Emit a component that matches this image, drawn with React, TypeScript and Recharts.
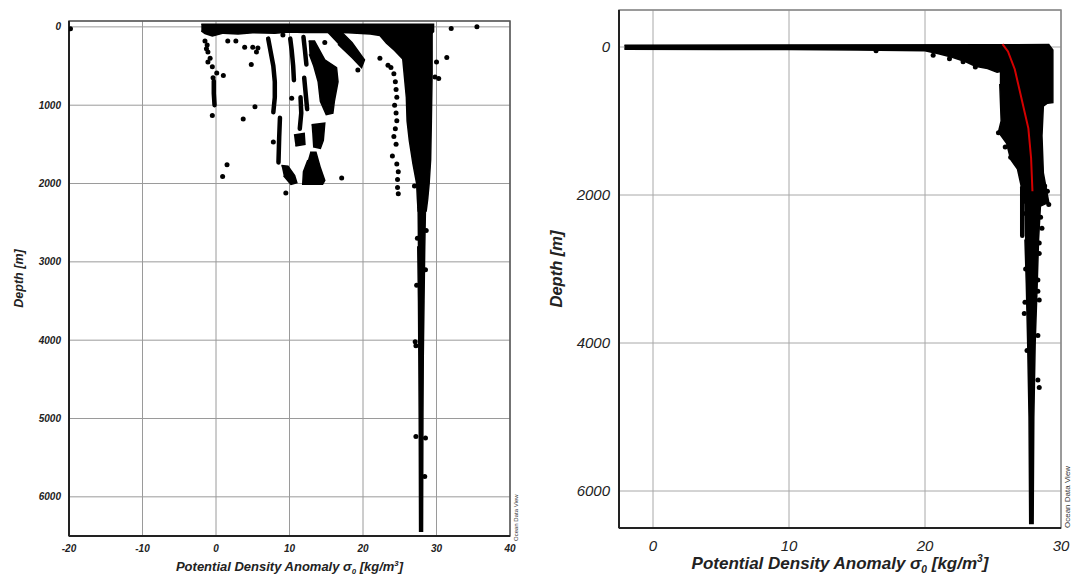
import { ScatterChart, Scatter, XAxis, YAxis, CartesianGrid, ReferenceArea, Label } from 'recharts';

type Tup = [number, number];
type Pt = { x: number; d: number };

const toPts = (arr: Tup[]): Pt[] => arr.map(([x, d]) => ({ x, d }));

const INK = '#000';
const MEAN_RED = '#d40000';

// ---------- left panel: sigma0 (x) vs depth (m) ----------
const leftXTicks = [-20, -10, 0, 10, 20, 30, 40];
const leftYTicks = [0, 1000, 2000, 3000, 4000, 5000, 6000];

// dense regions, as outlines (sigma0, depth)
const leftSurface: Tup[] = [[-2.0, -35], [29.6, -35], [29.6, 60], [25.5, 420], [24.3, 300], [23.2, 210], [22.3, 110], [21, 90], [18, 75], [15, 70], [12, 72], [10, 65], [8, 80], [5, 75], [3, 90], [1, 80], [-0.5, 115], [-1.5, 85], [-2.0, 50]];
const leftMain: Tup[] = [[25.4, 40], [29.4, 40], [29.4, 600], [29.3, 1200], [29.2, 1700], [29.0, 2000], [28.8, 2200], [28.6, 2350], [27.5, 2350], [27.4, 2200], [27.3, 2000], [26.8, 1750], [26.3, 1450], [26.0, 1200], [25.9, 900], [25.6, 600], [25.3, 300]];
const leftDeep: Tup[] = [[27.4, 2300], [28.5, 2300], [28.4, 2800], [28.3, 3500], [28.2, 4200], [28.15, 5000], [28.1, 6440], [27.7, 6440], [27.65, 5000], [27.6, 4200], [27.55, 3500], [27.45, 2800]];
const leftBlobDiag: Tup[] = [[14.8, 40], [16.8, 40], [18.5, 200], [20.2, 420], [19.8, 520], [18.6, 400], [16.6, 220]];
const leftBlobBig: Tup[] = [[12.6, 180], [13.4, 180], [14.8, 420], [16.4, 520], [16.6, 700], [16.1, 950], [15.9, 1100], [15.0, 1120], [14.2, 950], [13.9, 700], [13.3, 500], [12.7, 350]];
const leftBlobB: Tup[] = [[13.0, 1250], [14.8, 1230], [14.6, 1450], [14.2, 1550], [13.2, 1530]];
const leftBlobC: Tup[] = [[12.8, 1600], [13.6, 1600], [14.2, 1800], [14.8, 1960], [14.5, 2010], [11.8, 2010], [11.9, 1850], [12.5, 1700]];
const leftBlobD: Tup[] = [[8.9, 1770], [9.8, 1780], [10.7, 1900], [11.0, 1990], [10.2, 2010], [9.2, 1900]];
const leftBlobE: Tup[] = [[10.6, 1380], [12.0, 1360], [12.1, 1500], [10.8, 1520]];

// single profiles that read as chains of dots
const leftLineA: Tup[] = [[-0.3, 690], [-0.3, 850], [-0.2, 1000]];
const leftLineB: Tup[] = [[7.1, 150], [7.4, 300], [7.8, 500], [8.0, 700], [8.0, 900], [7.8, 1090]];
const leftLineC: Tup[] = [[10.1, 150], [10.3, 300], [10.5, 500], [10.6, 680]];
const leftLineD: Tup[] = [[8.7, 1160], [8.6, 1400], [8.5, 1730]];
const leftLineE: Tup[] = [[11.9, 130], [12.1, 300], [12.3, 480]];
const leftLineF: Tup[] = [[12.0, 650], [12.2, 850], [12.4, 1050]];
const leftLineG: Tup[] = [[11.5, 900], [11.6, 1100], [11.4, 1300]];

const leftDots: Tup[] = [
  [-19.8, 25], [-1.2, 230], [-1.1, 320], [-1.1, 450], [-0.5, 510], [0.1, 590], [1.0, 620], [-0.4, 650],
  [-0.5, 1130], [1.5, 1760], [0.9, 1910], [-1.5, 180], [-0.8, 400], [-1.3, 280],
  [1.6, 180], [2.7, 180], [3.9, 260], [5.0, 260], [5.7, 270], [5.5, 320], [4.8, 480], [5.3, 1020], [3.7, 1175],
  [9.1, 105], [9.5, 2120], [7.8, 1470], [10.3, 910], [14.8, 200], [19.3, 550], [17.1, 1930],
  [31.4, 390], [30.3, 660], [30.0, 450], [29.8, 640], [32.0, 20], [35.5, 0], [27.0, 2030], [22.3, 400], [23.4, 490],
  [27.1, 4020], [27.2, 4070], [27.2, 5230], [28.5, 5250], [28.4, 5740], [28.5, 3100], [27.3, 3300], [28.6, 2600], [27.4, 2700],
  [23.8, 520], [24.2, 600], [24.4, 700], [24.5, 800], [24.6, 900], [24.3, 1000], [24.5, 1100], [24.6, 1200], [24.4, 1300],
  [24.2, 1400], [24.5, 1500], [24.0, 1650], [24.6, 1750], [24.8, 1850], [24.7, 1950], [24.7, 2050], [24.8, 2130],
];

// ---------- right panel ----------
const rightXTicks = [0, 10, 20, 30];
const rightYTicks = [0, 2000, 4000, 6000];

const rightSurface: Tup[] = [[-2.1, -25], [25.6, -30], [25.6, 330], [25.3, 340], [24.6, 290], [23.7, 260], [23.0, 200], [22.0, 140], [21.0, 90], [20.0, 50], [15.0, 40], [10.0, 35], [5.0, 35], [-2.1, 30]];
const rightBlock: Tup[] = [[25.5, -30], [29.1, -35], [29.4, 40], [29.4, 750], [29.0, 760], [28.7, 800], [28.6, 1200], [28.7, 1700], [28.9, 1900], [29.1, 2100], [28.5, 2150], [27.6, 2150], [27.3, 2100], [27.1, 1900], [26.8, 1650], [26.3, 1520], [26.0, 1300], [25.6, 1200], [25.4, 1150], [25.6, 1000], [25.5, 500]];
const rightDeep: Tup[] = [[27.3, 2100], [28.5, 2100], [28.35, 2600], [28.25, 3200], [28.1, 4000], [28.0, 5000], [27.95, 6440], [27.7, 6440], [27.65, 5000], [27.55, 4000], [27.45, 3200], [27.35, 2600]];
const rightStripe: Tup[] = [[27.15, 1900], [27.15, 2550]];
const rightDots: Tup[] = [
  [16.4, 50], [20.6, 110], [21.8, 160], [22.8, 200], [23.7, 270], [25.4, 1160], [25.9, 1350], [26.3, 1490],
  [28.8, 1880], [29.0, 1950], [29.1, 2130], [27.4, 2250], [28.5, 2300], [28.6, 2450], [28.4, 2650], [28.4, 2790],
  [27.4, 3000], [28.3, 3150], [28.3, 3300], [28.4, 3420], [27.35, 3450], [27.3, 3600], [28.3, 3900], [27.5, 4100],
  [28.3, 4500], [28.4, 4600],
];
const rightMean: Tup[] = [[25.7, -40], [26.1, 60], [26.6, 300], [27.1, 700], [27.6, 1100], [27.8, 1500], [27.9, 1950]];

const noDot = () => <g />;
const dot = (props: any) => <circle cx={props.cx} cy={props.cy} r={2.5} fill={INK} />;

function DensityTitle({ viewBox, size, dy }: any) {
  const x = viewBox.x + viewBox.width / 2;
  const y = viewBox.y + dy;
  return (
    <text x={x} y={y} textAnchor="middle" fontSize={size} fontStyle="italic" fontWeight={700} fill="#222">
      Potential Density Anomaly σ<tspan fontSize={size * 0.6} dy={size * 0.22}>0</tspan>
      <tspan dy={-size * 0.22}> [kg/m</tspan>
      <tspan fontSize={size * 0.6} dy={-size * 0.4}>3</tspan>
      <tspan dy={size * 0.4}>]</tspan>
    </text>
  );
}

function DepthTitle({ viewBox, size, bx }: any) {
  const x = viewBox.x + bx;
  const y = viewBox.y + viewBox.height / 2;
  return (
    <text x={x} y={y} transform={`rotate(-90 ${x} ${y})`} textAnchor="middle" fontSize={size} fontStyle="italic" fontWeight={700} fill="#222">
      Depth [m]
    </text>
  );
}

interface PanelCfg {
  width: number;
  margin: { top: number; right: number; bottom: number; left: number };
  xDomain: [number, number];
  yDomain: [number, number];
  xTicks: number[];
  yTicks: number[];
  yAxisWidth: number;
  xAxisHeight: number;
  tickSize: number;
  tickWeight: number;
  xTickMargin: number;
  yTickMargin: number;
  titleSize: number;
  titleDy: number;
  depthSize: number;
  depthX: number;
  gridColor: string;
  frameColor: string;
  polygons: Tup[][];
  lines: Tup[][];
  dots: Tup[];
  mean?: Tup[];
}

function Panel({ cfg }: { cfg: PanelCfg }) {
  const tick = { fontSize: cfg.tickSize, fontStyle: 'italic', fontWeight: cfg.tickWeight, fill: '#222' };
  return (
    <ScatterChart width={cfg.width} height={580} margin={cfg.margin}>
      <CartesianGrid stroke={cfg.gridColor} strokeWidth={1} />
      <XAxis
        type="number" dataKey="x" domain={cfg.xDomain} ticks={cfg.xTicks} interval={0} allowDataOverflow
        height={cfg.xAxisHeight} tickLine={false} axisLine={{ stroke: '#222', strokeWidth: 2 }}
        tickMargin={cfg.xTickMargin} tick={tick}
      >
        <Label content={(lp: any) => <DensityTitle viewBox={lp.viewBox} size={cfg.titleSize} dy={cfg.titleDy} />} />
      </XAxis>
      <YAxis
        type="number" dataKey="d" domain={cfg.yDomain} reversed ticks={cfg.yTicks} interval={0} allowDataOverflow
        width={cfg.yAxisWidth} tickLine={false} axisLine={{ stroke: '#222', strokeWidth: 2 }}
        tickMargin={cfg.yTickMargin} tick={tick}
      >
        <Label content={(lp: any) => <DepthTitle viewBox={lp.viewBox} size={cfg.depthSize} bx={cfg.depthX} />} />
      </YAxis>
      <ReferenceArea
        x1={cfg.xDomain[0]} x2={cfg.xDomain[1]} y1={cfg.yDomain[0]} y2={cfg.yDomain[1]}
        fill="none" stroke={cfg.frameColor} strokeWidth={1.5}
      />
      {cfg.polygons.map((poly, i) => (
        <Scatter key={`p${i}`} data={toPts(poly)} shape={noDot} line={{ stroke: INK, strokeWidth: 1.5, fill: INK }} isAnimationActive={false} />
      ))}
      {cfg.lines.map((ln, i) => (
        <Scatter key={`l${i}`} data={toPts(ln)} shape={noDot} line={{ stroke: INK, strokeWidth: 4.5, strokeLinecap: 'round', strokeLinejoin: 'round' }} isAnimationActive={false} />
      ))}
      <Scatter data={toPts(cfg.dots)} shape={dot} isAnimationActive={false} />
      {cfg.mean && (
        <Scatter data={toPts(cfg.mean)} shape={noDot} line={{ stroke: MEAN_RED, strokeWidth: 2 }} isAnimationActive={false} />
      )}
    </ScatterChart>
  );
}

const leftCfg: PanelCfg = {
  width: 540,
  margin: { top: 21, right: 30, bottom: 0, left: 0 },
  xDomain: [-20, 40],
  yDomain: [-75, 6500],
  xTicks: leftXTicks,
  yTicks: leftYTicks,
  yAxisWidth: 69,
  xAxisHeight: 44,
  tickSize: 10,
  tickWeight: 700,
  xTickMargin: 3,
  yTickMargin: 2,
  titleSize: 13,
  titleDy: 35,
  depthSize: 12.5,
  depthX: 23,
  gridColor: '#9a9a9a',
  frameColor: '#555',
  polygons: [leftSurface, leftMain, leftDeep, leftBlobDiag, leftBlobBig, leftBlobB, leftBlobC, leftBlobD, leftBlobE],
  lines: [leftLineA, leftLineB, leftLineC, leftLineD, leftLineE, leftLineF, leftLineG],
  dots: leftDots,
};

const rightCfg: PanelCfg = {
  width: 533,
  margin: { top: 10, right: 12, bottom: 0, left: 0 },
  xDomain: [-2.5, 30],
  yDomain: [-500, 6500],
  xTicks: rightXTicks,
  yTicks: rightYTicks,
  yAxisWidth: 79,
  xAxisHeight: 52,
  tickSize: 15,
  tickWeight: 400,
  xTickMargin: 6,
  yTickMargin: 3,
  titleSize: 17,
  titleDy: 41,
  depthSize: 16.5,
  depthX: 22,
  gridColor: '#a8a8a8',
  frameColor: '#888',
  polygons: [rightSurface, rightBlock, rightDeep],
  lines: [rightStripe],
  dots: rightDots,
  mean: rightMean,
};

function Credit({ left, top, size }: { left: number; top: number; size: number }) {
  return (
    <div
      style={{
        position: 'absolute', left, top, fontSize: size, color: '#333', whiteSpace: 'nowrap',
        transform: 'rotate(-90deg)', transformOrigin: 'left top', lineHeight: 1,
      }}
    >
      Ocean Data View
    </div>
  );
}

export default function App() {
  return (
    <div
      style={{
        position: 'absolute', left: 0, top: 0, width: 1073, height: 580, background: '#fff',
        fontFamily: '"Liberation Sans", Arial, sans-serif',
      }}
    >
      <div style={{ position: 'absolute', left: 0, top: 0 }}>
        <Panel cfg={leftCfg} />
      </div>
      <div style={{ position: 'absolute', left: 540, top: 0 }}>
        <Panel cfg={rightCfg} />
      </div>
      <Credit left={513} top={541} size={6} />
      <Credit left={1064} top={528} size={8} />
    </div>
  );
}
